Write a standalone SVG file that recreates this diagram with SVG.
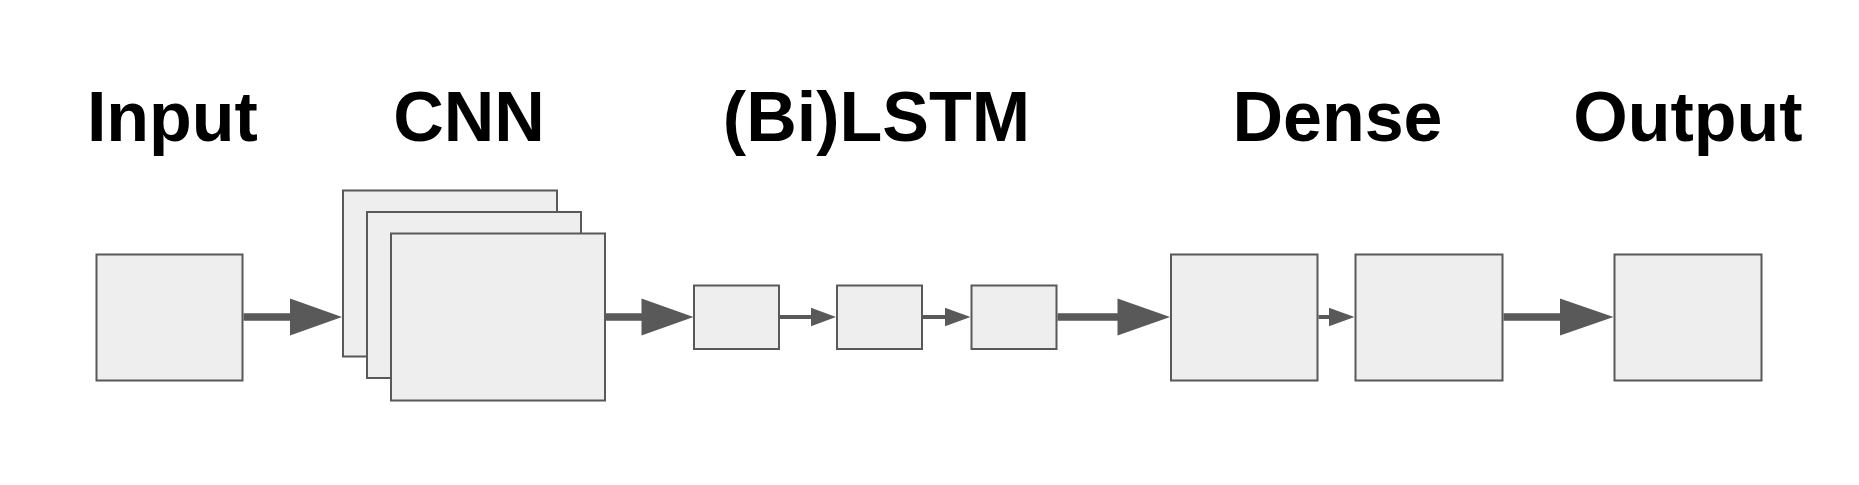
<svg xmlns="http://www.w3.org/2000/svg" width="1859" height="485" viewBox="0 0 1859 485">
<style>
.box{fill:#eeeeee;stroke:#595959;stroke-width:2}
.lbl{font-family:"Liberation Sans",Arial,sans-serif;font-weight:bold;font-size:70px;fill:#000;text-anchor:middle}
.big{stroke:#595959;stroke-width:7.7;fill:none}
.small{stroke:#595959;stroke-width:4;fill:none}
.head{fill:#595959;stroke:none}
</style>
<rect width="1859" height="485" fill="#ffffff"/>
<g id="labels">
<text class="lbl" x="172.4" y="141">Input</text>
<text class="lbl" x="469" y="141">CNN</text>
<text class="lbl" x="876.4" y="141">(Bi)LSTM</text>
<text class="lbl" x="1337.5" y="141">Dense</text>
<text class="lbl" x="1688" y="141">Output</text>
</g>
<g id="input"><rect class="box" x="96.5" y="254.5" width="146" height="126"/></g>
<g id="cnn">
<rect class="box" x="343" y="190.5" width="214" height="166"/>
<rect class="box" x="367" y="212" width="214" height="166"/>
<rect class="box" x="391" y="233.5" width="214" height="167"/>
</g>
<g id="lstm1"><rect class="box" x="694" y="285.5" width="85" height="63.5"/></g>
<g id="lstm2"><rect class="box" x="837" y="285.5" width="85" height="63.5"/></g>
<g id="lstm3"><rect class="box" x="971.5" y="285.5" width="85" height="63.5"/></g>
<g id="dense1"><rect class="box" x="1171" y="254.5" width="146.5" height="126"/></g>
<g id="dense2"><rect class="box" x="1355.5" y="254.5" width="147" height="126"/></g>
<g id="output"><rect class="box" x="1614.5" y="254.5" width="147" height="126"/></g>
<g id="connectors">
<line class="big" x1="243.5" y1="317" x2="291" y2="317"/>
<polygon class="head" points="290,298.5 342,317 290,335.5"/>
<line class="big" x1="606" y1="317" x2="642.5" y2="317"/>
<polygon class="head" points="641.5,298.5 693.5,317 641.5,335.5"/>
<line class="small" x1="780" y1="317" x2="812" y2="317"/>
<polygon class="head" points="811,307.7 836,317 811,326.3"/>
<line class="small" x1="923" y1="317" x2="946" y2="317"/>
<polygon class="head" points="945,307.7 970.5,317 945,326.3"/>
<line class="big" x1="1057.5" y1="317" x2="1118.5" y2="317"/>
<polygon class="head" points="1117.5,298.5 1170,317 1117.5,335.5"/>
<line class="small" x1="1318.5" y1="317" x2="1330" y2="317"/>
<polygon class="head" points="1329,307.7 1354.5,317 1329,326.3"/>
<line class="big" x1="1503.5" y1="317" x2="1561" y2="317"/>
<polygon class="head" points="1560,298.5 1613.5,317 1560,335.5"/>
</g>
</svg>
